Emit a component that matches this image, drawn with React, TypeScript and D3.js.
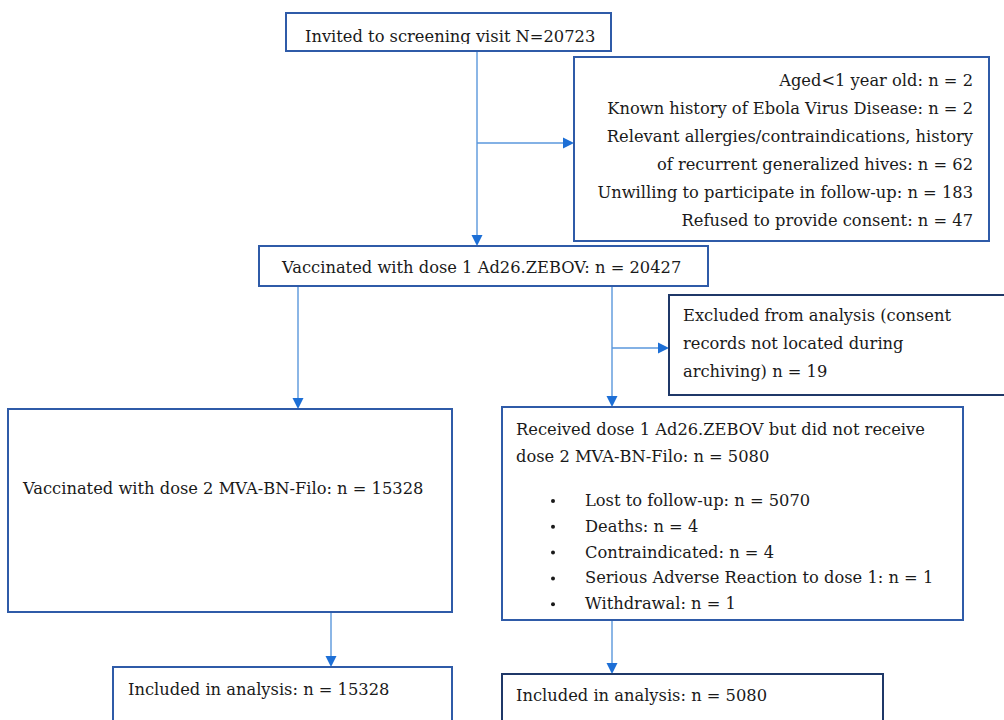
import React from "react";
import * as d3 from "d3";

// box texts
const invitedLines = ["Invited to screening visit N=20723"];
const screenExclusionLines = [
  "Aged<1 year old: n = 2",
  "Known history of Ebola Virus Disease: n = 2",
  "Relevant allergies/contraindications, history",
  "of recurrent generalized hives: n = 62",
  "Unwilling to participate in follow-up: n = 183",
  "Refused to provide consent: n = 47",
];
const dose1Lines = ["Vaccinated with dose 1 Ad26.ZEBOV: n = 20427"];
const analysisExclusionLines = [
  "Excluded from analysis (consent",
  "records not located during",
  "archiving) n = 19",
];
const dose2Lines = ["Vaccinated with dose 2 MVA-BN-Filo: n = 15328"];
const noDose2Lines = [
  "Received dose 1 Ad26.ZEBOV but did not receive",
  "dose 2 MVA-BN-Filo: n = 5080",
];
const noDose2Reasons = [
  "Lost to follow-up: n = 5070",
  "Deaths: n = 4",
  "Contraindicated: n = 4",
  "Serious Adverse Reaction to dose 1: n = 1",
  "Withdrawal: n = 1",
];
const includedDose2Lines = ["Included in analysis: n = 15328"];
const includedNoDose2Lines = ["Included in analysis: n = 5080"];

const W = 1004;
const H = 720;
const FONT = "'DejaVu Serif', 'Liberation Serif', serif";
const FS = 16.3;
const BORDER = "#2f5ba8";
const BORDER_DARK = "#1f3868";
const LINE = "#5a97dc";
const HEAD = "#1d6fd6";
const INK = "#1a1a1a";

// layout of the boxes
const boxes = [
  { id: "invited", x0: 286, y0: 13, x1: 611, y1: 51, lines: invitedLines, tx: 305, ty: 42, dy: 28, anchor: "start", stroke: BORDER, clipY: 44 },
  { id: "screenEx", x0: 574, y0: 57, x1: 989, y1: 241, lines: screenExclusionLines, tx: 973, ty: 86, dy: 28, anchor: "end", stroke: BORDER },
  { id: "dose1", x0: 259, y0: 246, x1: 708, y1: 286, lines: dose1Lines, tx: 282, ty: 273, dy: 28, anchor: "start", stroke: BORDER },
  { id: "analysisEx", x0: 669, y0: 295, x1: 1010, y1: 395, lines: analysisExclusionLines, tx: 683, ty: 321, dy: 28, anchor: "start", stroke: BORDER_DARK },
  { id: "dose2", x0: 8, y0: 409, x1: 452, y1: 612, lines: dose2Lines, tx: 23, ty: 494, dy: 28, anchor: "start", stroke: BORDER },
  { id: "noDose2", x0: 502, y0: 407, x1: 963, y1: 620, lines: noDose2Lines, tx: 516, ty: 435, dy: 27, anchor: "start", stroke: BORDER },
  { id: "inc2", x0: 113, y0: 667, x1: 452, y1: 730, lines: includedDose2Lines, tx: 128, ty: 695, dy: 28, anchor: "start", stroke: BORDER },
  { id: "incNo2", x0: 502, y0: 674, x1: 883, y1: 730, lines: includedNoDose2Lines, tx: 516, ty: 701, dy: 28, anchor: "start", stroke: BORDER_DARK },
];

const bulletX = 553;
const bulletTextX = 585;
const bulletY0 = 506;
const bulletDy = 25.8;

// connectors: polyline points, last point gets an arrowhead
const connectors: [number, number][][] = [
  [[477, 51], [477, 246]],
  [[477, 143], [574, 143]],
  [[298, 286], [298, 409]],
  [[612, 286], [612, 407]],
  [[612, 348], [669, 348]],
  [[331, 612], [331, 667]],
  [[612, 620], [612, 674]],
];

const line = d3.line<[number, number]>();

function arrowHead(p: [number, number], q: [number, number]) {
  const ang = Math.atan2(q[1] - p[1], q[0] - p[0]);
  const len = 11;
  const half = 5.5;
  const bx = q[0] - len * Math.cos(ang);
  const by = q[1] - len * Math.sin(ang);
  const nx = -Math.sin(ang) * half;
  const ny = Math.cos(ang) * half;
  const path = d3.path();
  path.moveTo(q[0], q[1]);
  path.lineTo(bx + nx, by + ny);
  path.lineTo(bx - nx, by - ny);
  path.closePath();
  return path.toString();
}

export default function App() {
  return (
    <svg
      width={W}
      height={H}
      viewBox={`0 0 ${W} ${H}`}
      style={{ position: "absolute", left: 0, top: 0, background: "#fff" }}
    >
      <defs>
        {boxes
          .filter((b) => b.clipY)
          .map((b) => (
            <clipPath id={`clip-${b.id}`} key={b.id}>
              <rect x={b.x0} y={b.y0} width={b.x1 - b.x0} height={(b.clipY as number) - b.y0} />
            </clipPath>
          ))}
      </defs>
      <rect width={W} height={H} fill="#fff" />

      {connectors.map((pts, i) => {
        const n = pts.length;
        const end = pts[n - 1];
        const prev = pts[n - 2];
        const ang = Math.atan2(end[1] - prev[1], end[0] - prev[0]);
        const trimmed = pts.slice(0, n - 1).concat([[end[0] - 8 * Math.cos(ang), end[1] - 8 * Math.sin(ang)]]);
        return (
          <g key={i}>
            <path d={line(trimmed as [number, number][]) || ""} fill="none" stroke={LINE} strokeWidth={1.4} />
            <path d={arrowHead(prev, end)} fill={HEAD} />
          </g>
        );
      })}

      {boxes.map((b) => (
        <g key={b.id}>
          <rect
            x={b.x0}
            y={b.y0}
            width={b.x1 - b.x0}
            height={b.y1 - b.y0}
            fill="#fff"
            stroke={b.stroke}
            strokeWidth={2}
          />
          <g clipPath={b.clipY ? `url(#clip-${b.id})` : undefined}>
            {b.lines.map((t, i) => (
              <text
                key={i}
                x={b.tx}
                y={b.ty + i * b.dy}
                textAnchor={b.anchor}
                fontFamily={FONT}
                fontSize={FS}
                fill={INK}
              >
                {t}
              </text>
            ))}
          </g>
        </g>
      ))}

      {noDose2Reasons.map((t, i) => (
        <g key={t}>
          <circle cx={bulletX} cy={bulletY0 + i * bulletDy - 5} r={2} fill={INK} />
          <text x={bulletTextX} y={bulletY0 + i * bulletDy} fontFamily={FONT} fontSize={FS} fill={INK}>
            {t}
          </text>
        </g>
      ))}
    </svg>
  );
}
